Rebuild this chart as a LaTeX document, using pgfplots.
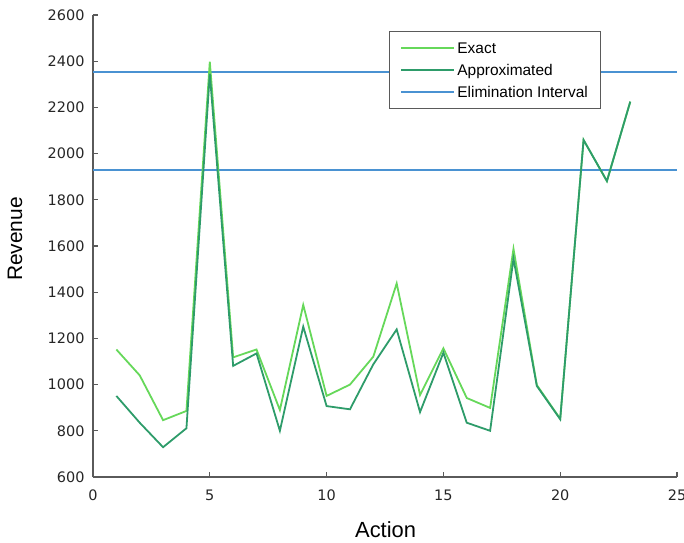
\documentclass[border=0pt]{standalone}
\usepackage{pgfplots}
\pgfplotsset{compat=1.18}
\usepackage{fontspec}
\setmainfont{Liberation Sans}
\newfontfamily\tickfont{DejaVu Sans}
\definecolor{exactc}{HTML}{66D85A}
\definecolor{approxc}{HTML}{2E9C6A}
\definecolor{elimc}{HTML}{4A92D2}
\definecolor{axc}{HTML}{5A5A5A}
\begin{document}
\begin{tikzpicture}
\begin{axis}[
  scale only axis,
  width=584bp, height=462bp,
  xmin=0, xmax=25, ymin=600, ymax=2600,
  enlargelimits=false,
  axis lines=left,
  axis line style={-, draw=axc, line width=1.3bp},
  tick style={draw=axc, line width=1.1bp},
  tick align=inside,
  major tick length=5bp,
  xtick={0,5,10,15,20,25},
  ytick={600,800,1000,1200,1400,1600,1800,2000,2200,2400,2600},
  /pgf/number format/assume math mode=true,
  /pgf/number format/1000 sep={},
  ticklabel style={font=\tickfont\fontsize{14.5}{16}\selectfont, text=black!85},
  yticklabel style={xshift=-5bp},
  xticklabel style={yshift=-9bp},
  xlabel={Action}, ylabel={Revenue},
  xlabel style={at={(axis description cs:0.501,-0.1147)}, anchor=center, font=\fontsize{22}{24}\selectfont},
  ylabel style={at={(axis description cs:-0.1336,0.515)}, anchor=center, rotate=0, font=\fontsize{21}{24}\selectfont},
  legend style={at={(0.507,0.966)}, anchor=north west,
    draw=axc, line width=1.1bp, font=\fontsize{15.5}{18}\selectfont,
    inner xsep=10.5bp, inner ysep=5.5bp, row sep=0bp,
    nodes={inner ysep=2.75bp, inner xsep=2.5bp, text height=13.5bp, text depth=3bp}},
  legend cell align=left,
  legend image code/.code={\draw[line width=1.8bp, #1] (0bp,0bp) -- (53bp,0bp);},
]
\coordinate (sw) at (rel axis cs:0,0);
\coordinate (ne) at (rel axis cs:1,1);
\addplot[elimc, line width=1.8bp, forget plot] coordinates {(0,2353) (25,2353)};
\addplot[elimc, line width=1.8bp, forget plot] coordinates {(0,1930) (25,1930)};
\addplot[exactc, line width=1.8bp] coordinates {
(1,1152) (2,1040) (3,846) (4,886) (5,2398) (6,1118) (7,1152) (8,890) (9,1345) (10,951)
(11,1000) (12,1121) (13,1438) (14,955) (15,1157) (16,942) (17,899) (18,1588) (19,998) (20,852)
(21,2059) (22,1881) (23,2225)};
\addlegendentry{Exact}
\addplot[approxc, line width=1.8bp] coordinates {
(1,951) (2,835) (3,729) (4,811) (5,2345) (6,1081) (7,1135) (8,800) (9,1251) (10,907)
(11,893) (12,1088) (13,1239) (14,881) (15,1138) (16,835) (17,800) (18,1545) (19,994) (20,850)
(21,2059) (22,1881) (23,2225)};
\addlegendentry{Approximated}
\addlegendimage{elimc, line width=1.8bp}
\addlegendentry{Elimination Interval}
\end{axis}
\pgfresetboundingbox
\path ([xshift=-93bp,yshift=-66bp]sw) rectangle ([xshift=7bp,yshift=15bp]ne);
\end{tikzpicture}
\end{document}
